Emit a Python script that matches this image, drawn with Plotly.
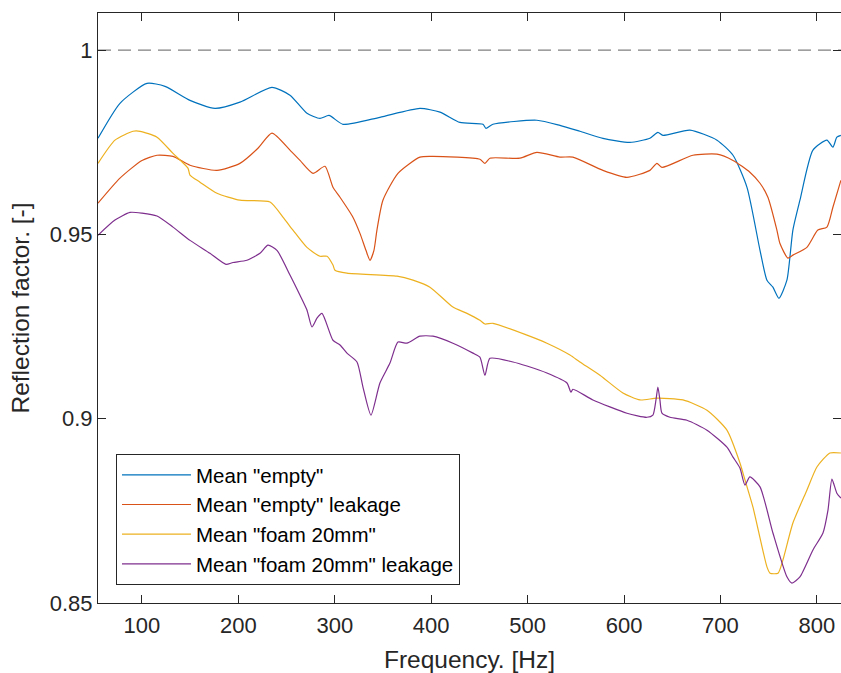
import plotly.graph_objects as go

# ---- data ----
series_names = ['Mean "empty"', 'Mean "empty" leakage', 'Mean "foam 20mm"', 'Mean "foam 20mm" leakage']
series_colors = ["#0072BD", "#D95319", "#EDB120", "#7E2F8E"]

empty_f = [54.4, 77.2, 105.2, 123.9, 149.8, 175.7, 201.6, 234.8, 253.5, 271.1, 284.6, 294.0, 308.5,
           346.8, 388.3, 409.1, 429.8, 453.6, 456.8, 464.0, 509.6, 533.5, 554.2, 578.1, 606.1, 626.8,
           635.1, 640.3, 668.3, 696.4, 713.0, 727.5, 741.0, 748.2, 754.4, 760.6, 768.9, 775.1, 782.4,
           795.9, 810.4, 816.6, 820.7, 824.9]
empty_r = [0.9761, 0.9856, 0.9910, 0.9902, 0.9864, 0.9842, 0.9859, 0.9899, 0.9878, 0.9829, 0.9815, 0.9823, 0.9799,
           0.9818, 0.9842, 0.9832, 0.9804, 0.9799, 0.9788, 0.9799, 0.9810, 0.9796, 0.9780, 0.9761, 0.9750, 0.9761,
           0.9777, 0.9769, 0.9783, 0.9756, 0.9715, 0.9628, 0.9457, 0.9376, 0.9357, 0.9327, 0.9376, 0.9512, 0.9593,
           0.9729, 0.9756, 0.9737, 0.9764, 0.9769]

empty_leak_f = [54.4, 77.2, 100.0, 115.6, 132.2, 149.8, 177.8, 201.6, 220.3, 234.8, 253.5, 263.9, 277.4, 289.8,
                298.1, 305.4, 318.8, 326.1, 332.3, 336.5, 340.6, 343.7, 349.9, 365.5, 388.3, 401.8, 450.5, 455.7,
                460.9, 492.0, 509.6, 533.5, 546.9, 578.1, 603.0, 626.8, 634.1, 639.3, 671.4, 696.4, 713.0, 730.5,
                741.0, 749.2, 758.5, 761.6, 769.9, 775.1, 789.6, 801.0, 810.4, 816.6, 824.9]
empty_leak_r = [0.9585, 0.9653, 0.9701, 0.9715, 0.9712, 0.9688, 0.9674, 0.9693, 0.9734, 0.9775, 0.9729, 0.9701, 0.9666, 0.9685,
                0.9628, 0.9601, 0.9547, 0.9503, 0.9457, 0.9430, 0.9457, 0.9512, 0.9593, 0.9666, 0.9710, 0.9712, 0.9704, 0.9693,
                0.9707, 0.9707, 0.9723, 0.9710, 0.9710, 0.9674, 0.9655, 0.9674, 0.9693, 0.9682, 0.9715, 0.9718, 0.9701, 0.9669,
                0.9639, 0.9601, 0.9512, 0.9476, 0.9436, 0.9444, 0.9465, 0.9512, 0.9520, 0.9574, 0.9647]

foam_f = [54.4, 72.0, 90.7, 98.0, 115.6, 132.2, 147.7, 149.8, 160.2, 177.8, 201.6, 232.8, 246.2, 256.6, 271.1,
          284.6, 291.9, 298.1, 300.2, 312.6, 364.5, 381.1, 398.7, 422.5, 437.1, 450.5, 455.7, 464.0, 499.3,
          520.0, 543.9, 554.2, 575.0, 598.8, 616.5, 634.1, 661.1, 686.0, 706.7, 720.2, 725.4, 733.7, 748.2,
          751.4, 759.7, 764.8, 775.1, 789.6, 800.0, 813.5, 824.9]
foam_r = [0.9693, 0.9756, 0.9780, 0.9780, 0.9764, 0.9720, 0.9680, 0.9661, 0.9642, 0.9612, 0.9593, 0.9588, 0.9547, 0.9512, 0.9465,
          0.9441, 0.9441, 0.9417, 0.9403, 0.9395, 0.9387, 0.9376, 0.9357, 0.9303, 0.9286, 0.9267, 0.9257, 0.9259, 0.9227,
          0.9205, 0.9173, 0.9154, 0.9118, 0.9070, 0.9051, 0.9056, 0.9051, 0.9023, 0.8969, 0.8880, 0.8834, 0.8760, 0.8598,
          0.8581, 0.8581, 0.8617, 0.8717, 0.8806, 0.8869, 0.8907, 0.8907]

foam_leak_f = [54.4, 72.0, 87.6, 100.0, 115.6, 132.2, 149.8, 170.5, 187.1, 194.4, 208.9, 222.4, 230.7, 240.0,
               253.5, 263.9, 271.1, 276.3, 281.5, 286.7, 298.1, 305.4, 312.6, 323.0, 329.2, 337.5, 346.8, 357.2,
               365.5, 374.8, 388.3, 401.8, 422.5, 443.3, 450.5, 455.7, 460.9, 484.8, 499.3, 520.0, 540.8, 544.9,
               547.0, 567.7, 603.0, 623.7, 629.9, 633.1, 635.1, 637.2, 639.3, 647.6, 665.2, 686.0, 706.7, 713.0,
               720.2, 725.4, 730.5, 741.0, 754.4, 768.9, 774.1, 782.4, 795.9, 806.3, 811.5, 815.6, 820.7, 824.9]
foam_leak_r = [0.9498, 0.9539, 0.9560, 0.9558, 0.9550, 0.9520, 0.9484, 0.9449, 0.9419, 0.9424, 0.9430, 0.9449, 0.9471, 0.9457,
               0.9390, 0.9335, 0.9295, 0.9249, 0.9273, 0.9286, 0.9213, 0.9200, 0.9178, 0.9154, 0.9086, 0.9010, 0.9097, 0.9151,
               0.9208, 0.9205, 0.9224, 0.9224, 0.9205, 0.9178, 0.9167, 0.9118, 0.9164, 0.9154, 0.9143, 0.9124, 0.9097, 0.9072,
               0.9080, 0.9051, 0.9015, 0.9004, 0.9010, 0.9051, 0.9086, 0.9051, 0.9015, 0.9004, 0.8996, 0.8969, 0.8923, 0.8896,
               0.8866, 0.8820, 0.8842, 0.8815, 0.8690, 0.8571, 0.8554, 0.8571, 0.8644, 0.8690, 0.8752, 0.8836, 0.8798, 0.8785]

ref_level = 1.0
x_range = [54.4, 825.0]
y_range = [0.85, 1.0101]
x_ticks = [100, 200, 300, 400, 500, 600, 700, 800]
y_ticks = [0.85, 0.9, 0.95, 1.0]
y_ticktext = ["0.85", "0.9", "0.95", "1"]

FONT = "Liberation Sans, Arial, Helvetica, sans-serif"
AX = "#262626"

fig = go.Figure()

# reference line at 1
fig.add_trace(go.Scatter(x=x_range, y=[ref_level, ref_level], mode="lines",
                         line=dict(color="#808080", width=1.3, dash="13px,7px"),
                         showlegend=False, hoverinfo="skip"))

all_f = [empty_f, empty_leak_f, foam_f, foam_leak_f]
all_r = [empty_r, empty_leak_r, foam_r, foam_leak_r]
for name, col, f, r in zip(series_names, series_colors, all_f, all_r):
    fig.add_trace(go.Scatter(x=f, y=r, mode="lines", name=name,
                             line=dict(color=col, width=1.2, shape="spline", smoothing=0.6)))

fig.update_layout(
    width=841, height=673,
    margin=dict(l=98, r=0, t=13, b=70),
    plot_bgcolor="white", paper_bgcolor="white",
    font=dict(family=FONT, color=AX, size=22),
    showlegend=True,
    legend=dict(
        x=(116 - 98) / (841 - 98), y=(603 - 585) / (603 - 13),
        xanchor="left", yanchor="bottom",
        bordercolor=AX, borderwidth=1, bgcolor="white",
        font=dict(size=20.5, family=FONT, color="black"),
        tracegroupgap=0, itemwidth=69,
    ),
    xaxis=dict(
        range=x_range, tickvals=x_ticks, ticks="inside", ticklen=8, tickcolor=AX,
        showline=True, linecolor=AX, linewidth=1, mirror="ticks",
        showgrid=False, zeroline=False, ticklabelstandoff=3,
        tickfont=dict(size=22, color=AX),
        title=dict(text="Frequency. [Hz]", font=dict(size=24.5, color=AX), standoff=13),
    ),
    yaxis=dict(
        range=y_range, tickvals=y_ticks, ticktext=y_ticktext, ticks="inside", ticklen=8, tickcolor=AX,
        showline=True, linecolor=AX, linewidth=1, mirror="ticks",
        showgrid=False, zeroline=False,
        tickfont=dict(size=22, color=AX),
        title=dict(text="Reflection factor. [-]", font=dict(size=24.5, color=AX), standoff=13),
    ),
)

fig.write_html("out.html")
